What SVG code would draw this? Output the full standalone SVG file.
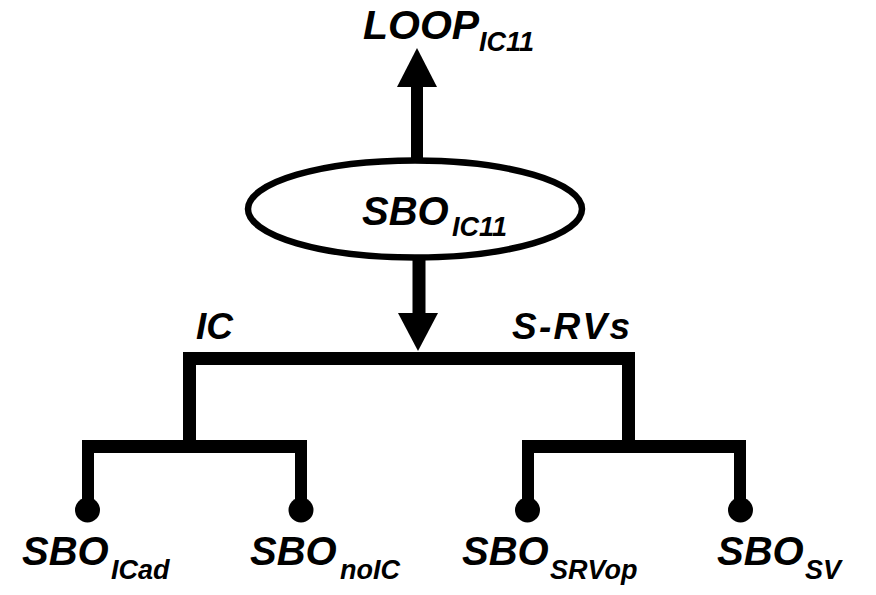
<svg xmlns="http://www.w3.org/2000/svg" width="876" height="595" viewBox="0 0 876 595">
<style>
text{font-family:"Liberation Sans",Arial,sans-serif;font-weight:bold;font-style:italic;fill:#000}
.big{font-size:40px}
.sub{font-size:27px}
.lbl{font-size:37px}
.bar{fill:#000}
.dot{fill:#000}
</style>
<rect width="876" height="595" fill="#fff"/>
<g id="connectors">
  <!-- up arrow to LOOP -->
  <rect class="bar" x="411" y="86" width="12" height="72"/>
  <polygon class="bar" points="417,48 437,87 397,87"/>
  <!-- down arrow from SBO_IC11 -->
  <rect class="bar" x="412.5" y="256" width="13" height="58"/>
  <polygon class="bar" points="398,313 438,313 418,351"/>
  <!-- top bar -->
  <rect class="bar" x="183" y="352" width="452" height="13"/>
  <rect class="bar" x="183" y="352" width="13" height="101"/>
  <rect class="bar" x="622" y="352" width="13" height="101"/>
  <!-- left lower bar -->
  <rect class="bar" x="82" y="440" width="225" height="13"/>
  <rect class="bar" x="82" y="440" width="12" height="70"/>
  <rect class="bar" x="295" y="440" width="12" height="70"/>
  <circle class="dot" cx="87.5" cy="510" r="12.5"/>
  <circle class="dot" cx="301" cy="510" r="12.5"/>
  <!-- right lower bar -->
  <rect class="bar" x="522" y="440" width="224" height="13"/>
  <rect class="bar" x="522" y="440" width="12" height="70"/>
  <rect class="bar" x="734" y="440" width="12" height="70"/>
  <circle class="dot" cx="527.5" cy="510" r="12.5"/>
  <circle class="dot" cx="740.5" cy="510" r="12.5"/>
</g>
<g id="node-loop">
  <text class="big" x="363" y="39" style="font-size:41px">LOOP<tspan class="sub" x="479" y="51">IC11</tspan></text>
</g>
<g id="node-sbo-ic11">
  <ellipse cx="415" cy="209" rx="167" ry="48.5" fill="#fff" stroke="#000" stroke-width="6.5"/>
  <text class="big" x="362" y="225">SBO<tspan class="sub" x="452" y="236">IC11</tspan></text>
</g>
<g id="label-ic">
  <text class="lbl" x="196" y="339">IC</text>
</g>
<g id="label-srvs">
  <text class="lbl" x="512" y="339" textLength="118" lengthAdjust="spacing">S-RVs</text>
</g>
<g id="node-sbo-icad">
  <text class="big" x="22" y="565">SBO<tspan class="sub" x="111" y="579">ICad</tspan></text>
</g>
<g id="node-sbo-noic">
  <text class="big" x="250" y="565">SBO<tspan class="sub" x="340" y="579">noIC</tspan></text>
</g>
<g id="node-sbo-srvop">
  <text class="big" x="462" y="565">SBO<tspan class="sub" x="550" y="579">SRVop</tspan></text>
</g>
<g id="node-sbo-sv">
  <text class="big" x="717" y="565">SBO<tspan class="sub" x="805" y="579">SV</tspan></text>
</g>
</svg>
